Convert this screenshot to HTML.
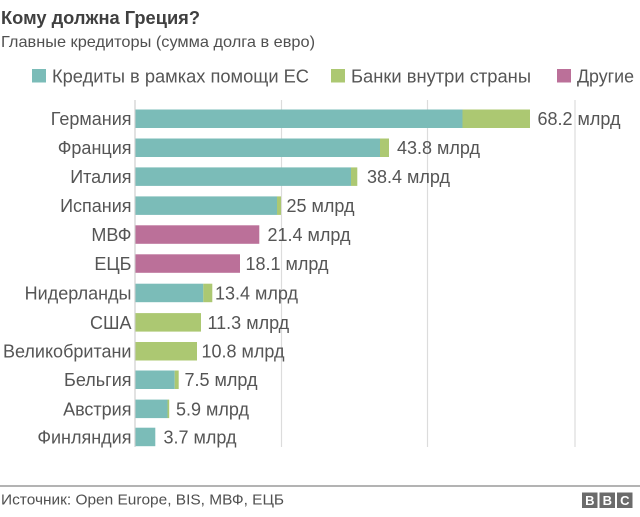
<!DOCTYPE html>
<html>
<head>
<meta charset="utf-8">
<style>
  html,body{margin:0;padding:0;background:#fff;}
  svg{display:block;}
  text{font-family:"Liberation Sans","Noto Sans CJK SC",sans-serif;}
</style>
</head>
<body>
<svg width="640" height="517" viewBox="0 0 640 517" xmlns="http://www.w3.org/2000/svg">
  <rect width="640" height="517" fill="#fff"/>
  <!-- Title -->
  <text x="1" y="24" font-size="18" font-weight="bold" fill="#404040" textLength="199" lengthAdjust="spacingAndGlyphs">Кому должна Греция?</text>
  <text x="1" y="47" font-size="16" fill="#505050" textLength="314" lengthAdjust="spacingAndGlyphs">Главные кредиторы (сумма долга в евро)</text>

  <!-- Legend -->
  <rect x="32" y="69" width="14" height="13.5" fill="#7bbcb8"/>
  <text x="52" y="82.5" font-size="18" fill="#555" textLength="257" lengthAdjust="spacingAndGlyphs">Кредиты в рамках помощи ЕС</text>
  <rect x="331" y="69" width="14" height="13.5" fill="#acc872"/>
  <text x="351" y="82.5" font-size="18" fill="#555" textLength="180" lengthAdjust="spacingAndGlyphs">Банки внутри страны</text>
  <rect x="557" y="69" width="14" height="13.5" fill="#bb7099"/>
  <text x="577" y="82.5" font-size="18" fill="#555" textLength="57" lengthAdjust="spacingAndGlyphs">Другие</text>

  <!-- Grid -->
  <g stroke="#dcdcdc" stroke-width="1.2">
    <line x1="281.5" y1="100" x2="281.5" y2="447"/>
    <line x1="427.5" y1="100" x2="427.5" y2="447"/>
    <line x1="575" y1="100" x2="575" y2="447"/>
  </g>
  <line x1="135" y1="100" x2="135" y2="447" stroke="#cfcfcf" stroke-width="1.2"/>

  <!-- Bars -->
  <g>
    <!-- Германия -->
    <rect x="135.5" y="109.5" width="327" height="18.5" fill="#7bbcb8"/>
    <rect x="462.5" y="109.5" width="67.5" height="18.5" fill="#acc872"/>
    <!-- Франция -->
    <rect x="135.5" y="138.5" width="244.5" height="18.5" fill="#7bbcb8"/>
    <rect x="380" y="138.5" width="9" height="18.5" fill="#acc872"/>
    <!-- Италия -->
    <rect x="135.5" y="167.4" width="215.5" height="18.5" fill="#7bbcb8"/>
    <rect x="351" y="167.4" width="6.3" height="18.5" fill="#acc872"/>
    <!-- Испания -->
    <rect x="135.5" y="196.4" width="141.5" height="18.5" fill="#7bbcb8"/>
    <rect x="277" y="196.4" width="4" height="18.5" fill="#acc872"/>
    <!-- МВФ -->
    <rect x="135.5" y="225.3" width="123.8" height="18.5" fill="#bb7099"/>
    <!-- ЕЦБ -->
    <rect x="135.5" y="254.3" width="104.5" height="18.5" fill="#bb7099"/>
    <!-- Нидерланды -->
    <rect x="135.5" y="283.7" width="67.8" height="18.5" fill="#7bbcb8"/>
    <rect x="203.3" y="283.7" width="9" height="18.5" fill="#acc872"/>
    <!-- США -->
    <rect x="135.5" y="313.1" width="65.5" height="18.5" fill="#acc872"/>
    <!-- Великобритания -->
    <rect x="135.5" y="342" width="61.5" height="18.5" fill="#acc872"/>
    <!-- Бельгия -->
    <rect x="135.5" y="370.5" width="39.2" height="18.5" fill="#7bbcb8"/>
    <rect x="174.7" y="370.5" width="4" height="18.5" fill="#acc872"/>
    <!-- Австрия -->
    <rect x="135.5" y="399.6" width="32" height="18.5" fill="#7bbcb8"/>
    <rect x="167.5" y="399.6" width="1.7" height="18.5" fill="#acc872"/>
    <!-- Финляндия -->
    <rect x="135.5" y="427.7" width="19.8" height="18.5" fill="#7bbcb8"/>
  </g>

  <!-- Category labels -->
  <g font-size="18" fill="#555" text-anchor="end">
    <text x="131.5" y="125.2">Германия</text>
    <text x="131.5" y="154.2">Франция</text>
    <text x="131.5" y="183.1">Италия</text>
    <text x="131.5" y="212.1">Испания</text>
    <text x="131.5" y="241">МВФ</text>
    <text x="131.5" y="270">ЕЦБ</text>
    <text x="131.5" y="299.4">Нидерланды</text>
    <text x="131.5" y="328.8">США</text>
    <text x="131.5" y="357.7">Великобритани</text>
    <text x="131.5" y="386.2">Бельгия</text>
    <text x="131.5" y="415.3">Австрия</text>
    <text x="131.5" y="443.4">Финляндия</text>
  </g>

  <!-- Value labels -->
  <g font-size="18" fill="#555">
    <text x="537.5" y="125.2">68.2 млрд</text>
    <text x="397" y="154.2">43.8 млрд</text>
    <text x="367" y="183.1">38.4 млрд</text>
    <text x="286.5" y="212.1">25 млрд</text>
    <text x="267.5" y="241">21.4 млрд</text>
    <text x="245.5" y="270">18.1 млрд</text>
    <text x="215" y="299.4">13.4 млрд</text>
    <text x="207.5" y="328.8">11.3 млрд</text>
    <text x="201.5" y="357.7">10.8 млрд</text>
    <text x="184.5" y="386.2">7.5 млрд</text>
    <text x="176" y="415.3">5.9 млрд</text>
    <text x="163.5" y="443.4">3.7 млрд</text>
  </g>

  <!-- Footer -->
  <line x1="0" y1="486" x2="640" y2="486" stroke="#9a9a9a" stroke-width="1.5"/>
  <text x="1" y="504.5" font-size="15" fill="#505050" textLength="283" lengthAdjust="spacingAndGlyphs">Источник: Open Europe, BIS, МВФ, ЕЦБ</text>

  <!-- BBC logo -->
  <g>
    <rect x="582" y="492.5" width="15.5" height="15.5" fill="#6b6b6b"/>
    <rect x="599.5" y="492.5" width="15.5" height="15.5" fill="#6b6b6b"/>
    <rect x="617" y="492.5" width="15.5" height="15.5" fill="#6b6b6b"/>
    <g font-size="13" font-weight="bold" fill="#fff" text-anchor="middle">
      <text x="589.8" y="505">B</text>
      <text x="607.3" y="505">B</text>
      <text x="624.8" y="505">C</text>
    </g>
  </g>
</svg>
</body>
</html>
